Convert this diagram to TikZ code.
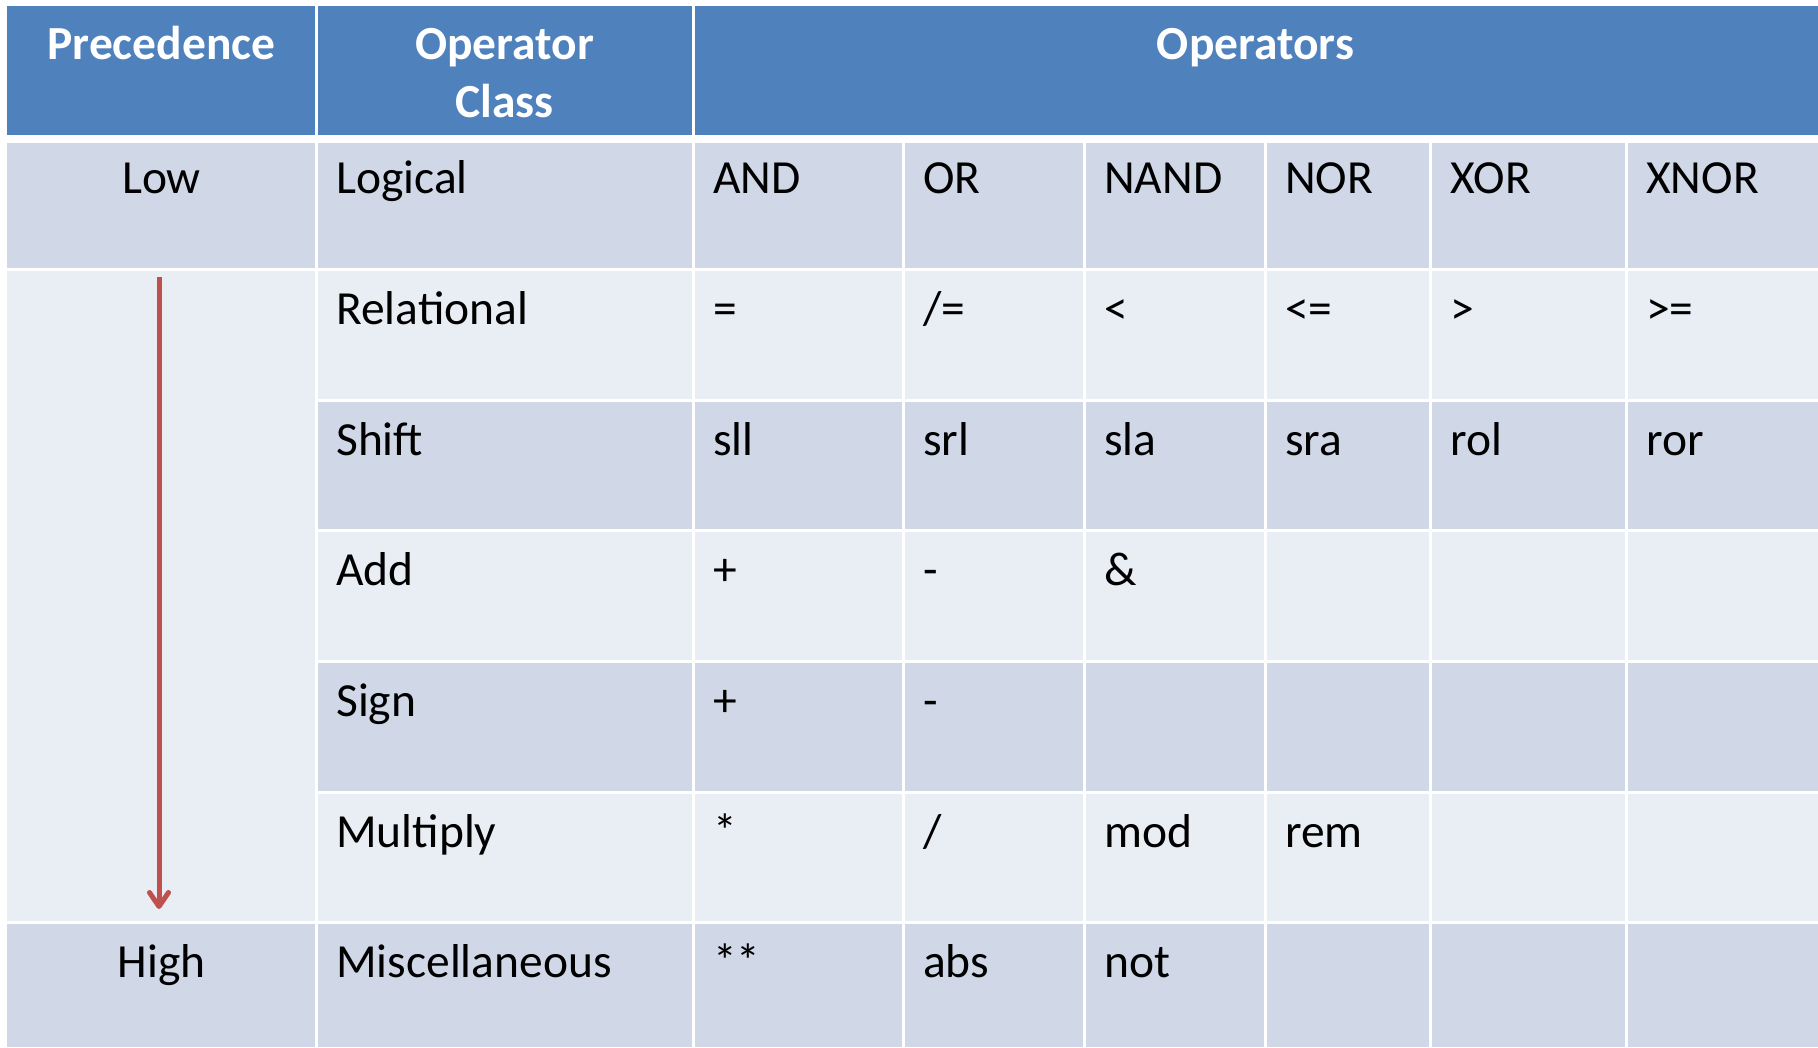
\documentclass[tikz,border=0pt]{standalone}
\usepackage{fontspec}
\setmainfont{Carlito}
\usetikzlibrary{arrows.meta}

\definecolor{hdrblue}{HTML}{4F81BD}
\definecolor{banddark}{HTML}{D0D8E8}
\definecolor{bandlight}{HTML}{E9EDF4}
\definecolor{arrowred}{HTML}{C0504D}

\tikzset{
  hdr/.style={text=white, font=\fontsize{47.5}{58}\selectfont\bfseries, inner sep=0pt},
  cell/.style={text=black, font=\fontsize{47.5}{58}\selectfont, inner sep=0pt, anchor=base west},
  ctr/.style={text=black, font=\fontsize{47.5}{58}\selectfont, inner sep=0pt, anchor=base},
  grid/.style={white, line width=3pt},
  prec/.style={arrowred, line width=5pt,
    -{Straight Barb[length=14pt, width=19pt, line width=5pt, round]}}
}

\begin{document}
\begin{tikzpicture}[x=1pt, y=-1pt]
  % canvas
  \useasboundingbox (0,0) rectangle (1818,1047);
  \fill[white] (0,0) rectangle (1818,1047);

  % header band
  \fill[hdrblue] (7,6) rectangle (1818,135);

  % body bands (rows: Logical, Relational, Shift, Add, Sign, Multiply, Misc)
  \foreach \top/\bot/\col in {143/269/banddark, 269/400/bandlight, 400/530.5/banddark,
      530.5/661/bandlight, 661/792/banddark, 792/922/bandlight, 922/1047/banddark}
    \fill[\col] (316,\top) rectangle (1818,\bot);
  % precedence column: Low, merged middle, High
  \fill[banddark]  (7,143) rectangle (316,269);
  \fill[bandlight] (7,269) rectangle (316,922);
  \fill[banddark]  (7,922) rectangle (316,1047);

  % grid lines
  \draw[grid] (316,6) -- (316,135);
  \draw[grid] (693,6) -- (693,135);
  \foreach \x in {316,693,903,1084,1265,1430,1626}
    \draw[grid] (\x,143) -- (\x,1047);
  \foreach \y in {269,400,530.5,661,792}
    \draw[grid] (316,\y) -- (1818,\y);
  \draw[grid] (7,269) -- (316,269);
  \draw[grid] (7,922) -- (1818,922);

  % header texts
  \node[hdr, anchor=base] (hPrec) at (161.5,59) {Precedence};
  \node[hdr, anchor=base] (hClassA) at (504.5,59) {Operator};
  \node[hdr, anchor=base] (hClassB) at (504.5,117) {Class};
  \node[hdr, anchor=base] (hOps) at (1255.5,59) {Operators};

  % precedence labels
  \node[ctr] (low) at (161.5,193) {Low};
  \node[ctr] (high) at (161.5,977) {High};

  % operator class column
  \node[cell] (cLog) at (336,193) {Logical};
  \node[cell] (cRel) at (336,324) {Relational};
  \node[cell] (cShf) at (336,455) {Shift};
  \node[cell] (cAdd) at (336,585) {Add};
  \node[cell] (cSgn) at (336,716) {Sign};
  \node[cell] (cMul) at (336,847) {Multiply};
  \node[cell] (cMsc) at (336,977) {Miscellaneous};

  % operators
  \node[cell] (l1) at (713,193) {AND};
  \node[cell] (l2) at (923,193) {OR};
  \node[cell] (l3) at (1104,193) {NAND};
  \node[cell] (l4) at (1285,193) {NOR};
  \node[cell] (l5) at (1450,193) {XOR};
  \node[cell] (l6) at (1646,193) {XNOR};

  \node[cell] (r1) at (713,324) {=};
  \node[cell] (r2) at (923,324) {/=};
  \node[cell] (r3) at (1104,324) {<};
  \node[cell] (r4) at (1285,324) {<=};
  \node[cell] (r5) at (1450,324) {>};
  \node[cell] (r6) at (1646,324) {>=};

  \node[cell] (s1) at (713,455) {sll};
  \node[cell] (s2) at (923,455) {srl};
  \node[cell] (s3) at (1104,455) {sla};
  \node[cell] (s4) at (1285,455) {sra};
  \node[cell] (s5) at (1450,455) {rol};
  \node[cell] (s6) at (1646,455) {ror};

  \node[cell] (a1) at (713,585) {+};
  \node[cell] (a2) at (923,585) {-};
  \node[cell] (a3) at (1104,585) {\&};

  \node[cell] (g1) at (713,716) {+};
  \node[cell] (g2) at (923,716) {-};

  \node[cell] (m1) at (713,847) {*};
  \node[cell] (m2) at (923,847) {/};
  \node[cell] (m3) at (1104,847) {mod};
  \node[cell] (m4) at (1285,847) {rem};

  \node[cell] (x1) at (713,977) {**};
  \node[cell] (x2) at (923,977) {abs};
  \node[cell] (x3) at (1104,977) {not};

  % precedence arrow, low to high
  \coordinate (arrTop) at (159,277);
  \coordinate (arrEnd) at (159,909);
  \draw[prec] (arrTop) -- (arrEnd);
\end{tikzpicture}
\end{document}
